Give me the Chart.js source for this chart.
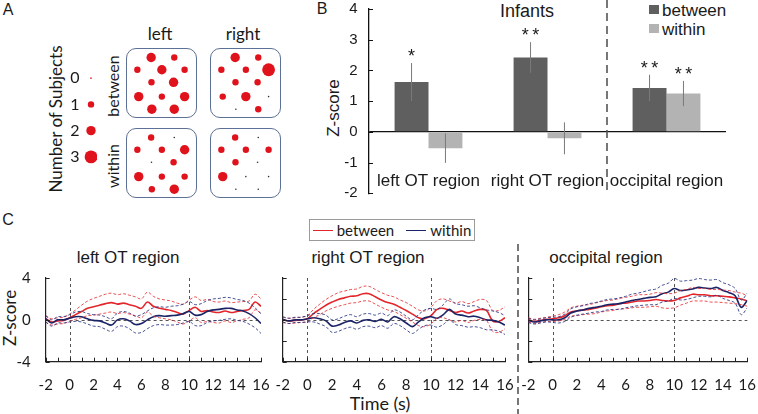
<!DOCTYPE html>
<html lang="en">
<head>
<meta charset="UTF-8">
<title>Infants z-scores</title>
<script src="https://cdn.jsdelivr.net/npm/chart.js"></script>
<style>
  body { margin: 0; background: #fff; }
  #fig { position: relative; width: 758px; height: 414px; overflow: hidden;
         font-family: "Liberation Sans", Arial, sans-serif; color: #1a1a1a; }
  .pane { position: absolute; }
  .lbl { position: absolute; transform: translate(-50%, -50%); white-space: nowrap; line-height: 1; }
  .rot { transform: translate(-50%, -50%) rotate(-90deg); }
  .cal { font-family: Lato, sans-serif; }
  .box { position: absolute; border: 1.3px solid #5d7096; border-radius: 10px; box-sizing: border-box; }
  .sq { position: absolute; width: 10px; height: 9px; }
  #legC { position: absolute; left: 309px; top: 219px; width: 166px; height: 22px; box-sizing: border-box;
          border: 1px solid #9a9a9a; display: flex; align-items: center; justify-content: center;
          font-family: Lato, sans-serif; font-size: 15px; }
  #legC i { display: inline-block; width: 20px; height: 0; border-top: 1.6px solid; margin: 0 4px 0 6px; }
</style>
</head>
<body>
<div id="fig">
  <!-- panel A -->
  <div class="lbl" style="left:8px;top:10px;font-size:16px">A</div>
  <div class="lbl cal" style="left:160px;top:33px;font-size:17px">left</div>
  <div class="lbl cal" style="left:243px;top:33px;font-size:17px">right</div>
  <div class="lbl cal rot" style="left:113px;top:86px;font-size:16px">between</div>
  <div class="lbl cal rot" style="left:113px;top:166px;font-size:16px">within</div>
  <div class="lbl cal rot" style="left:55px;top:119px;font-size:17px">Number of Subjects</div>
  <div class="pane" style="left:40px;top:30px;width:57px;height:175px"><canvas id="sizeKey"></canvas></div>
  <div class="box" style="left:126px;top:48px;width:71px;height:70px"><canvas id="mapLB"></canvas></div>
  <div class="box" style="left:210px;top:48px;width:71px;height:70px"><canvas id="mapRB"></canvas></div>
  <div class="box" style="left:126px;top:128px;width:71px;height:70px"><canvas id="mapLW"></canvas></div>
  <div class="box" style="left:210px;top:128px;width:71px;height:70px"><canvas id="mapRW"></canvas></div>

  <!-- panel B -->
  <div class="lbl" style="left:322px;top:9px;font-size:16px">B</div>
  <div class="lbl" style="left:527px;top:11px;font-size:18px">Infants</div>
  <div class="lbl rot" style="left:333px;top:108px;font-size:17px">Z-score</div>
  <div class="sq" style="left:649px;top:5px;background:#5f5f5f"></div>
  <div class="sq" style="left:649px;top:24px;background:#b3b3b3"></div>
  <div class="lbl" style="left:662px;top:10px;font-size:17px;transform:translate(0,-50%)">between</div>
  <div class="lbl" style="left:662px;top:29px;font-size:17px;transform:translate(0,-50%)">within</div>
  <div class="pane" style="left:300px;top:0px;width:440px;height:200px"><canvas id="barB"></canvas></div>

  <!-- panel C -->
  <div class="lbl" style="left:8px;top:220px;font-size:16px">C</div>
  <div id="legC"><i style="color:#e3262b;margin-left:0"></i>between<i style="color:#1b2466;margin-left:12px"></i>within</div>
  <div class="lbl" style="left:128px;top:257px;font-size:17px">left OT region</div>
  <div class="lbl" style="left:368px;top:257px;font-size:17px">right OT region</div>
  <div class="lbl" style="left:606px;top:257px;font-size:17px">occipital region</div>
  <div class="lbl cal rot" style="left:9px;top:318px;font-size:17px">Z-score</div>
  <div class="lbl cal" style="left:380px;top:403px;font-size:18px">Time (s)</div>
  <svg style="position:absolute;left:0;top:0" width="758" height="414">
    <line x1="518" y1="244" x2="518" y2="414" stroke="#555" stroke-width="1.6" stroke-dasharray="7 4"/>
  </svg>
  <div class="pane" style="left:0px;top:265px;width:270px;height:149px"><canvas id="lineL"></canvas></div>
  <div class="pane" style="left:270px;top:265px;width:245px;height:149px"><canvas id="lineR"></canvas></div>
  <div class="pane" style="left:518px;top:265px;width:240px;height:149px"><canvas id="lineO"></canvas></div>
</div>

<script>
// ---- panel A: channel layout (percent of box) and subject counts per channel
const channelX = [35, 68.5, 15, 50.5, 83.5, 35.5, 67.5, 17, 50.5, 83.5, 36, 68.5];
const channelY = [12.5, 12.5, 30.5, 30.5, 30.5, 49, 49, 70, 70, 70, 88.5, 88.5];
const leftBetween  = [2, 1, 1, 2, 1, 1, 2, 2, 1, 2, 2, 2];
const rightBetween = [2, 1, 1, 1, 3, 1, 1, 1, 2, 0, 0, 1];
const leftWithin   = [1, 0, 1, 1, 2, 0, 1, 2, 1, 1, 1, 2];
const rightWithin  = [1, 0, 1, 1, 1, 1, 0, 2, 0, 0, 0, 0];
const subjectCounts = [0, 1, 2, 3];

// ---- panel B
const regions = ['left OT region', 'right OT region', 'occipital region'];
const betweenZ  = [1.62, 2.42, 1.43];
const betweenSE = [0.62, 0.50, 0.43];
const withinZ   = [-0.53, -0.21, 1.25];
const withinSE  = [0.48, 0.52, 0.41];
const betweenStars = ['*', '**', '**'];
const withinStars  = ['', '', '**'];

// ---- panel C: time courses (mean and CI half-width)
const timeSec = [-2, -1.5, -1, -0.5, 0, 0.5, 1, 1.5, 2, 2.5, 3, 3.5, 4, 4.5, 5, 5.5, 6, 6.5, 7, 7.5,
                 8, 8.5, 9, 9.5, 10, 10.5, 11, 11.5, 12, 12.5, 13, 13.5, 14, 14.5, 15, 15.5, 16];
const timeTicks = [-2, 0, 2, 4, 6, 8, 10, 12, 14, 16];
const zTicks = [-4, -2, 0, 2, 4];

const leftOtBetween   = [0.1, -0.2, -0.1, -0.05, 0.2, 0.5, 0.8, 1.1, 1.25, 1.4, 1.55, 1.65, 1.5, 1.6, 1.45, 1.3, 1.1, 1.7, 1.3, 1.1,
                         1.0, 0.9, 0.7, 0.55, 0.9, 1.2, 0.8, 0.9, 0.75, 0.7, 0.85, 0.7, 0.8, 0.9, 1.0, 1.7, 1.3];
const leftOtBetweenCI = [0.3, 0.3, 0.3, 0.3, 0.35, 0.45, 0.6, 0.7, 0.8, 0.85, 0.9, 0.9, 0.9, 0.9, 0.9, 0.9, 0.9, 0.95, 0.95, 0.9,
                         0.9, 0.9, 0.9, 0.95, 1.0, 1.0, 1.05, 1.05, 1.0, 1.0, 0.95, 0.95, 0.9, 0.85, 0.8, 0.75, 0.7];
const leftOtWithin    = [0.1, -0.3, 0.0, 0.0, 0.15, 0.3, 0.3, 0.1, -0.05, -0.1, -0.3, -0.5, 0.0, 0.1, -0.1, -0.45, -0.35, 0.0, 0.3, 0.4,
                         0.35, 0.4, 0.45, 0.6, 0.8, 0.45, 0.5, 0.8, 0.95, 1.0, 1.1, 1.1, 0.95, 0.85, 0.6, 0.2, -0.35];
const leftOtWithinCI  = [0.3, 0.3, 0.3, 0.3, 0.35, 0.45, 0.5, 0.5, 0.55, 0.55, 0.6, 0.6, 0.65, 0.7, 0.75, 0.8, 0.85, 0.85, 0.85, 0.85,
                         0.85, 0.9, 0.9, 0.9, 0.95, 1.0, 1.05, 1.05, 1.05, 1.05, 1.05, 1.0, 1.0, 1.0, 1.0, 0.95, 0.95];

const rightOtBetween   = [0.0, -0.1, -0.05, 0.0, 0.1, 0.6, 1.0, 1.4, 1.7, 1.95, 2.1, 2.25, 2.3, 2.5, 2.5, 2.2, 1.9, 1.65, 1.5, 1.2,
                          0.9, 0.55, 0.2, 0.1, 0.4, 1.0, 1.1, 0.9, 0.7, 0.85, 0.65, 0.85, 1.0, 0.9, -0.1, -0.15, 0.2];
const rightOtBetweenCI = [0.25, 0.25, 0.25, 0.25, 0.3, 0.4, 0.5, 0.55, 0.6, 0.65, 0.65, 0.65, 0.65, 0.7, 0.7, 0.7, 0.7, 0.7, 0.7, 0.7,
                          0.75, 0.75, 0.75, 0.75, 0.8, 0.85, 0.9, 0.9, 0.9, 0.9, 0.9, 0.9, 0.95, 0.95, 1.0, 1.05, 1.05];
const rightOtWithin    = [0.05, -0.1, 0.0, 0.0, 0.1, 0.2, 0.1, -0.1, -0.6, -0.5, -0.25, -0.1, -0.3, -0.05, 0.0, -0.15, 0.05, -0.2, 0.3, 0.1,
                          -0.3, -0.65, -0.2, 0.2, 0.3, 0.15, 0.5, 1.0, 0.55, 0.45, 0.3, 0.35, 0.2, 0.0, -0.05, -0.2, -0.5];
const rightOtWithinCI  = [0.25, 0.25, 0.25, 0.25, 0.3, 0.4, 0.5, 0.55, 0.6, 0.6, 0.6, 0.6, 0.6, 0.6, 0.6, 0.6, 0.6, 0.6, 0.65, 0.65,
                          0.65, 0.65, 0.7, 0.75, 0.8, 0.85, 0.95, 1.0, 1.0, 1.0, 1.0, 1.0, 0.95, 0.95, 0.9, 0.9, 0.9];

const occBetween   = [0.0, -0.15, -0.05, 0.05, 0.1, 0.2, 0.4, 0.75, 0.85, 0.95, 1.0, 1.1, 1.25, 1.35, 1.4, 1.55, 1.6, 1.7, 1.8, 1.8,
                      1.85, 1.95, 1.85, 1.8, 1.85, 2.1, 2.25, 2.45, 2.4, 2.4, 2.3, 2.3, 2.25, 2.2, 2.1, 2.0, 1.8];
const occBetweenCI = [0.2, 0.2, 0.2, 0.2, 0.25, 0.3, 0.35, 0.4, 0.45, 0.45, 0.45, 0.5, 0.5, 0.5, 0.5, 0.5, 0.55, 0.55, 0.6, 0.6,
                      0.6, 0.65, 0.7, 0.7, 0.7, 0.7, 0.65, 0.65, 0.6, 0.6, 0.6, 0.6, 0.6, 0.6, 0.55, 0.55, 0.5];
const occWithin    = [-0.05, -0.2, -0.1, 0.0, 0.0, 0.0, 0.2, 0.65, 0.85, 0.95, 1.1, 1.2, 1.3, 1.45, 1.5, 1.55, 1.7, 1.85, 1.95, 2.05,
                      2.15, 2.2, 2.5, 2.65, 3.0, 2.8, 2.85, 2.95, 3.1, 3.05, 3.0, 3.1, 2.8, 2.6, 2.3, 1.2, 1.85];
const occWithinCI  = [0.2, 0.2, 0.2, 0.2, 0.25, 0.3, 0.35, 0.4, 0.4, 0.4, 0.45, 0.45, 0.5, 0.5, 0.5, 0.55, 0.55, 0.6, 0.6, 0.65,
                      0.7, 0.75, 0.8, 0.85, 0.95, 0.9, 0.9, 0.85, 0.85, 0.8, 0.8, 0.75, 0.75, 0.75, 0.7, 0.7, 0.7];

const RED = '#e3262b', NAVY = '#1b2466', DOT = '#e0121b';
const dotRadius = n => [0.8, 3.2, 4.7, 6.4][n];
const CLEAR = 'rgba(0,0,0,0)';

Chart.defaults.animation = false;
Chart.defaults.events = [];
Chart.defaults.plugins.legend.display = false;
Chart.defaults.plugins.tooltip.enabled = false;
Chart.defaults.maintainAspectRatio = false;
Chart.defaults.layout.autoPadding = false;

// ---------- panel A ----------
function channelMap(id, counts) {
  new Chart(document.getElementById(id), {
    type: 'bubble',
    data: { datasets: [{
      data: counts.map((n, i) => ({ x: channelX[i], y: channelY[i], r: dotRadius(n) })),
      backgroundColor: counts.map(n => n === 0 ? '#333' : DOT),
      borderWidth: 0, clip: false
    }] },
    options: {
      layout: { padding: 0 },
      scales: {
        x: { display: false, min: 0, max: 100 },
        y: { display: false, min: 0, max: 100, reverse: true }
      }
    }
  });
}
channelMap('mapLB', leftBetween);
channelMap('mapRB', rightBetween);
channelMap('mapLW', leftWithin);
channelMap('mapRW', rightWithin);

new Chart(document.getElementById('sizeKey'), {
  type: 'bubble',
  data: { datasets: [{
    data: subjectCounts.map(n => ({ x: 0, y: n, r: dotRadius(n) })),
    backgroundColor: DOT, borderWidth: 0, clip: false
  }] },
  options: {
    layout: { padding: { top: 35, bottom: 35, left: 0, right: 0 } },
    scales: {
      x: { display: false, min: -1, max: 1 },
      y: {
        min: -0.5, max: 3.5, reverse: true,
        afterBuildTicks: s => { s.ticks = subjectCounts.map(v => ({ value: v })); },
        afterFit: s => { s.width = 45; },
        grid: { display: false, drawTicks: false },
        border: { display: false },
        ticks: { padding: 5.5, color: '#1a1a1a', font: { family: 'Lato', size: 16 } }
      }
    }
  }
});

// ---------- panel B ----------
const barExtras = {
  id: 'barExtras',
  afterDatasetsDraw(chart) {
    const { ctx, chartArea: a, scales: { x, y } } = chart;
    ctx.save();
    chart.data.datasets.forEach((ds, di) => {
      chart.getDatasetMeta(di).data.forEach((bar, i) => {
        const top = y.getPixelForValue(ds.data[i] + ds.se[i]);
        const bot = y.getPixelForValue(ds.data[i] - ds.se[i]);
        ctx.strokeStyle = '#7a7a7a'; ctx.lineWidth = 1;
        ctx.beginPath(); ctx.moveTo(bar.x, top); ctx.lineTo(bar.x, bot); ctx.stroke();
        if (ds.stars[i]) {
          ctx.fillStyle = '#1a1a1a';
          ctx.font = '18px "Liberation Sans", Arial';
          ctx.textAlign = 'center'; ctx.textBaseline = 'alphabetic';
          ctx.fillText(ds.stars[i].split('').join('\u2009'), bar.x, top - 1);
        }
      });
    });
    // category names inside the plot, near the bottom
    ctx.fillStyle = '#1a1a1a';
    ctx.font = '17px "Liberation Sans", Arial';
    ctx.textAlign = 'center'; ctx.textBaseline = 'alphabetic';
    chart.data.labels.forEach((lab, i) => ctx.fillText(lab, x.getPixelForValue(i), a.bottom - 7));
    // separator between temporal and occipital regions
    const sx = x.getPixelForValue(1.5);
    ctx.strokeStyle = '#555'; ctx.lineWidth = 1.6; ctx.setLineDash([8, 5]);
    ctx.beginPath(); ctx.moveTo(sx, 0); ctx.lineTo(sx, a.bottom); ctx.stroke();
    ctx.setLineDash([]);
    // inward ticks on the y axis
    ctx.strokeStyle = '#111'; ctx.lineWidth = 1;
    ctx.beginPath();
    y.ticks.forEach(t => {
      const py = Math.round(y.getPixelForValue(t.value)) + 0.5;
      ctx.moveTo(a.left, py); ctx.lineTo(a.left + 4, py);
    });
    ctx.stroke();
    ctx.restore();
  }
};

new Chart(document.getElementById('barB'), {
  type: 'bar',
  data: {
    labels: regions,
    datasets: [
      { label: 'between', data: betweenZ, se: betweenSE, stars: betweenStars, backgroundColor: '#5f5f5f' },
      { label: 'within', data: withinZ, se: withinSE, stars: withinStars, backgroundColor: '#b3b3b3' }
    ]
  },
  options: {
    layout: { padding: { top: 9, bottom: 6.7, right: 14, left: 0 } },
    datasets: { bar: { categoryPercentage: 0.57, barPercentage: 1 } },
    scales: {
      x: { display: false },
      y: {
        min: -2, max: 4,
        afterFit: s => { s.width = 69; },
        ticks: { stepSize: 1, padding: 0, color: '#1a1a1a',
                 font: { family: 'Liberation Sans', size: 15, lineHeight: 0.8 } },
        grid: { drawTicks: true, tickLength: 11.5, tickColor: CLEAR, lineWidth: 1.2,
                color: c => c.tick && c.tick.value === 0 ? '#111' : CLEAR },
        border: { display: true, color: '#111', width: 1.3 }
      }
    }
  },
  plugins: [barExtras]
});

// ---------- panel C ----------
const timeDecor = {
  id: 'timeDecor',
  beforeDatasetsDraw(chart) {
    const { ctx, chartArea: a, scales: { x, y } } = chart;
    ctx.save();
    ctx.strokeStyle = '#555'; ctx.lineWidth = 1; ctx.setLineDash([3, 3]);
    [0, 10].forEach(t => {
      const px = Math.round(x.getPixelForValue(t)) + 0.5;
      ctx.beginPath(); ctx.moveTo(px, a.top); ctx.lineTo(px, a.bottom); ctx.stroke();
    });
    const py = Math.round(y.getPixelForValue(0)) + 0.5;
    ctx.beginPath(); ctx.moveTo(x.getPixelForValue(0), py); ctx.lineTo(a.right, py); ctx.stroke();
    ctx.restore();
  },
  afterDraw(chart) {
    const { ctx, chartArea: a, scales: { x, y } } = chart;
    ctx.save();
    ctx.strokeStyle = '#222'; ctx.lineWidth = 1;
    ctx.beginPath();
    for (let t = x.min; t <= x.max; t++) {
      const px = Math.round(x.getPixelForValue(t)) + 0.5;
      ctx.moveTo(px, a.bottom); ctx.lineTo(px, a.bottom - 4);
    }
    y.ticks.forEach(t => {
      const py = Math.round(y.getPixelForValue(t.value)) + 0.5;
      ctx.moveTo(a.left, py); ctx.lineTo(a.left + 4, py);
    });
    ctx.stroke();
    ctx.restore();
  }
};

function band(mean, ci, sign) {
  return timeSec.map((t, i) => ({ x: t, y: mean[i] + sign * ci[i] }));
}

function timeChart(id, mB, ciB, mW, ciW, yWidth, padRight, showY) {
  const dashed = (data, color) => ({ data, borderColor: color, borderWidth: 1, borderDash: [3, 2],
                                     pointRadius: 0, tension: 0.35, fill: false });
  new Chart(document.getElementById(id), {
    type: 'line',
    data: { datasets: [
      dashed(band(mW, ciW, 1), 'rgba(40,52,130,0.85)'),
      dashed(band(mW, ciW, -1), 'rgba(40,52,130,0.85)'),
      dashed(band(mB, ciB, 1), 'rgba(230,50,55,0.85)'),
      dashed(band(mB, ciB, -1), 'rgba(230,50,55,0.85)'),
      { label: 'within', data: timeSec.map((t, i) => ({ x: t, y: mW[i] })), borderColor: NAVY,
        borderWidth: 1.6, pointRadius: 0, tension: 0.35 },
      { label: 'between', data: timeSec.map((t, i) => ({ x: t, y: mB[i] })), borderColor: RED,
        borderWidth: 1.6, pointRadius: 0, tension: 0.35 }
    ] },
    options: {
      layout: { padding: { top: 13, right: padRight, left: 0, bottom: 0 } },
      scales: {
        x: {
          type: 'linear', min: -2, max: 16,
          afterBuildTicks: s => { s.ticks = timeTicks.map(v => ({ value: v })); },
          afterFit: s => { s.height = 52.3; },
          ticks: { padding: 0, color: '#1a1a1a', font: { family: 'Lato', size: 15 } },
          grid: { drawOnChartArea: false, drawTicks: true, tickLength: 14, tickColor: CLEAR, color: CLEAR },
          border: { display: true, color: '#222', width: 1.2 }
        },
        y: {
          min: -4, max: 4,
          afterBuildTicks: s => { s.ticks = zTicks.map(v => ({ value: v })); },
          afterFit: s => { s.width = yWidth; },
          ticks: { display: showY, padding: 0, color: '#1a1a1a', font: { family: 'Lato', size: 15 } },
          grid: { drawOnChartArea: false, drawTicks: true, tickLength: 15, tickColor: CLEAR, color: CLEAR },
          border: { display: true, color: '#222', width: 1.2 }
        }
      }
    },
    plugins: [timeDecor]
  });
}

timeChart('lineL', leftOtBetween, leftOtBetweenCI, leftOtWithin, leftOtWithinCI, 45.7, 9, true);
timeChart('lineR', rightOtBetween, rightOtBetweenCI, rightOtWithin, rightOtWithinCI, 12.7, 10, false);
timeChart('lineO', occBetween, occBetweenCI, occWithin, occWithinCI, 10.3, 10.7, false);
</script>
</body>
</html>
